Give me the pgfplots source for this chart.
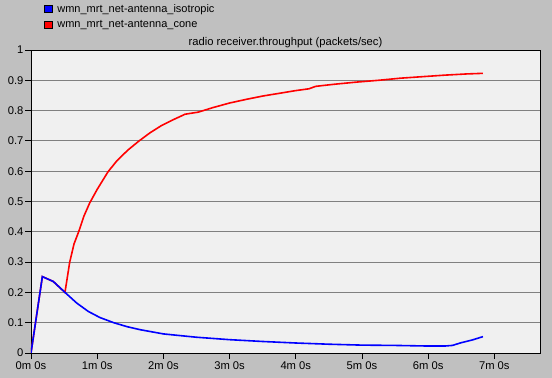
\documentclass[border=0pt]{standalone}
\usepackage{pgfplots}
\pgfplotsset{compat=1.18}
\usepackage{fontspec}
\setmainfont{Liberation Sans}
\definecolor{bggray}{RGB}{192,192,192}
\definecolor{plotbg}{RGB}{240,240,240}
\definecolor{gridgray}{RGB}{128,128,128}
\begin{document}
\begin{tikzpicture}
\fill[bggray] (-31bp,-25bp) rectangle (521bp,353bp);
\begin{axis}[
  at={(0,0)}, anchor=south west,
  scale only axis,
  width=509bp, height=303bp,
  xmin=0, xmax=461.4, ymin=0, ymax=1,
  axis background/.style={fill=plotbg},
  axis line style={black, line width=0.9bp},
  xtick={0,60,120,180,240,300,360,420},
  xticklabels={0m 0s,1m 0s,2m 0s,3m 0s,4m 0s,5m 0s,6m 0s,7m 0s},
  ytick={0,0.1,0.2,0.3,0.4,0.5,0.6,0.7,0.8,0.9,1},
  yticklabels={0,0.1,0.2,0.3,0.4,0.5,0.6,0.7,0.8,0.9,1},
  tick align=outside,
  xtick pos=bottom, ytick pos=left,
  major tick length=5.5bp,
  tick style={black, line width=0.8bp},
  ymajorgrids, grid style={gridgray, line width=0.8bp},
  tick label style={font=\fontsize{11.2bp}{13bp}\selectfont},
  yticklabel style={xshift=1.5bp},
  xticklabel style={yshift=0bp},
  /pgf/number format/assume math mode=true,
  title={radio receiver.throughput (packets/sec)},
  title style={font=\fontsize{11.2bp}{13bp}\selectfont, at={(0.5,1)}, anchor=base, yshift=-1bp},
  legend style={at={(0.026,1.158)}, anchor=north west, draw=none, fill=none,
    font=\fontsize{11bp}{13bp}\selectfont, row sep=2.6bp, inner sep=0pt,
    cells={anchor=west}},
  legend cell align=left,
  legend image code/.code={\draw[#1, draw=black, line width=0.5bp] (0bp,-3.6bp) rectangle (7.4bp,3.6bp); \path (10.5bp,0bp);},
]
\addlegendimage{fill=blue}
\addlegendentry{wmn\_mrt\_net-antenna\_isotropic}
\addlegendimage{fill=red}
\addlegendentry{wmn\_mrt\_net-antenna\_cone}
\addplot[red, line width=1.6bp, forget plot] coordinates {
(0,0) (10.3,0.252) (20.2,0.236) (30.8,0.2) (35.1,0.3) (39,0.36) (43.2,0.4) (48,0.452)
(53.2,0.495) (60,0.54) (69.8,0.598) (78,0.635) (87.9,0.67) (98,0.70) (108,0.727)
(118,0.75) (129,0.77) (139.6,0.788) (151.7,0.795) (165,0.81) (180,0.825)
(195,0.837) (210,0.848) (225,0.857) (240,0.866) (252,0.872) (258,0.88)
(275,0.887) (295,0.894) (315,0.90) (335,0.907) (355,0.912) (375,0.917)
(395,0.921) (409.7,0.923)
};
\addplot[blue, line width=1.6bp, forget plot] coordinates {
(0,0) (10.3,0.252) (20.2,0.236) (30.8,0.2) (41.4,0.165) (52,0.137) (62.5,0.117)
(75,0.1) (87,0.087) (98.8,0.077) (120,0.063) (150,0.052) (180,0.044) (210,0.038)
(240,0.033) (270,0.029) (300,0.026) (330,0.025) (360,0.023) (375,0.023)
(382,0.025) (390,0.034) (400,0.043) (409.7,0.054)
};
\end{axis}
\pgfresetboundingbox
\useasboundingbox (-31bp,-25bp) rectangle (521bp,353bp);
\end{tikzpicture}
\end{document}
